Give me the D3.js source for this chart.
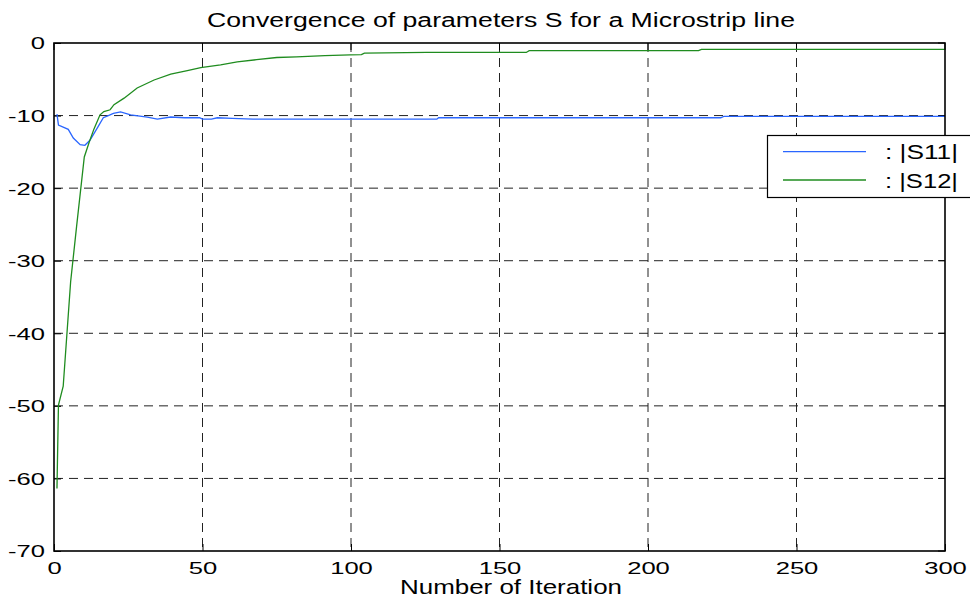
<!DOCTYPE html>
<html>
<head>
<meta charset="utf-8">
<script src="https://cdn.jsdelivr.net/npm/d3@7/dist/d3.min.js"></script>
<style>
  html, body { margin: 0; padding: 0; background: #fff; }
  svg { display: block; font-family: "Liberation Sans", Arial, Helvetica, sans-serif; }
</style>
</head>
<body>
<svg id="chart" width="970" height="598"></svg>
<script>
// ---- data ----
const titleText = "Convergence of parameters S for a Microstrip line";
const xLabelText = "Number of Iteration";
const xTicks = [0, 50, 100, 150, 200, 250, 300];
const yTicks = [0, -10, -20, -30, -40, -50, -60, -70];
const seriesNames = [": |S11|", ": |S12|"];

const s11Iter = [1, 1.5, 4.8, 6.5, 8.8, 10.4, 12.1, 14.9, 16.6, 18.3, 20, 22.4, 25.8, 31.4, 34.8, 39.3, 44, 49, 50, 53, 55, 60, 67, 80, 100, 128.9, 129.5, 150, 224.5, 225.5, 300];
const s11Val  = [-9.8, -11.3, -11.9, -13.1, -14.0, -14.1, -13.4, -11.5, -10.3, -10.0, -9.7, -9.5, -9.9, -10.2, -10.5, -10.2, -10.3, -10.3, -10.5, -10.5, -10.3, -10.4, -10.5, -10.5, -10.5, -10.5, -10.3, -10.3, -10.3, -10.1, -10.1];

const s12Iter = [1, 1.5, 3.1, 5.6, 7.6, 10.2, 11.9, 13.5, 15.5, 16.8, 18.9, 20.2, 23.6, 28, 33.7, 39.3, 44.9, 49.4, 56.1, 61.7, 68.2, 75, 81.7, 91.2, 99.7, 103.5, 104.5, 125.5, 150, 159, 160, 217, 218, 300];
const s12Val  = [-61.4, -49.9, -47.3, -32.9, -25.3, -15.7, -13.6, -11.8, -9.9, -9.45, -9.2, -8.5, -7.6, -6.2, -5.1, -4.3, -3.8, -3.4, -3.0, -2.6, -2.3, -2.0, -1.9, -1.75, -1.65, -1.6, -1.4, -1.3, -1.3, -1.3, -1.05, -1.05, -0.87, -0.87];

const seriesColors = ["#2a66ff", "#1f8c1f"];

// ---- layout ----
const svg = d3.select("#chart");
const pL = 54, pR = 945, pT = 43, pB = 551;

const x = d3.scaleLinear().domain([0, 300]).range([pL, pR]);
const y = d3.scaleLinear().domain([-70, 0]).range([pB, pT]);

// stretch text horizontally (reference glyphs are wide)
function stretch(sel, factor) {
  sel.each(function () {
    const w = this.getComputedTextLength();
    d3.select(this).attr("textLength", w * factor).attr("lengthAdjust", "spacingAndGlyphs");
  });
}

// grid
const grid = svg.append("g");
grid.selectAll("line.vx").data(xTicks.filter(t => t > 0 && t < 300)).enter()
  .append("line")
  .attr("x1", d => x(d)).attr("x2", d => x(d))
  .attr("y1", pT).attr("y2", pB)
  .attr("stroke", "#222").attr("stroke-width", 1)
  .attr("stroke-dasharray", "9,6");
grid.selectAll("line.hy").data(yTicks.filter(t => t < 0 && t > -70)).enter()
  .append("line")
  .attr("x1", pL).attr("x2", pR)
  .attr("y1", d => y(d)).attr("y2", d => y(d))
  .attr("stroke", "#222").attr("stroke-width", 1)
  .attr("stroke-dasharray", "9,6");

// axes
const fmt = d => String(d);
const xAxis = d3.axisBottom(x).tickValues(xTicks).tickFormat(fmt).tickSize(-7).tickPadding(0);
const yAxis = d3.axisLeft(y).tickValues(yTicks).tickFormat(fmt).tickSize(-7).tickPadding(9);

const gx = svg.append("g").attr("transform", `translate(0,${pB})`).call(xAxis);
const gy = svg.append("g").attr("transform", `translate(${pL},0)`).call(yAxis);
[gx, gy].forEach(g => {
  g.select(".domain").remove();
  g.selectAll(".tick line").attr("stroke", "#000");
  g.selectAll(".tick text").attr("font-size", 16.5).attr("fill", "#000")
    .attr("font-family", "Liberation Sans, Arial, sans-serif");
});
gx.selectAll(".tick text").attr("dy", null).attr("y", 22.5);
gy.selectAll(".tick text").attr("dy", "0.36em");
stretch(gx.selectAll(".tick text"), 1.55);
stretch(gy.selectAll(".tick text"), 1.55);

// top/right ticks
const rt = svg.append("g");
rt.selectAll("line.tt").data(xTicks).enter().append("line")
  .attr("x1", d => x(d)).attr("x2", d => x(d)).attr("y1", pT).attr("y2", pT + 7)
  .attr("stroke", "#000");
rt.selectAll("line.rr").data(yTicks).enter().append("line")
  .attr("x1", pR - 7).attr("x2", pR).attr("y1", d => y(d)).attr("y2", d => y(d))
  .attr("stroke", "#000");

// lines
const line = d3.line().x(d => x(d[0])).y(d => y(d[1]));
const s11 = s11Iter.map((t, i) => [t, s11Val[i]]);
const s12 = s12Iter.map((t, i) => [t, s12Val[i]]);
svg.append("clipPath").attr("id", "clp").append("rect")
  .attr("x", pL).attr("y", pT).attr("width", pR - pL).attr("height", pB - pT);
const lines = svg.append("g").attr("clip-path", "url(#clp)");
lines.append("path").datum(s11).attr("d", line).attr("fill", "none")
  .attr("stroke", seriesColors[0]).attr("stroke-width", 1.3);
lines.append("path").datum(s12).attr("d", line).attr("fill", "none")
  .attr("stroke", seriesColors[1]).attr("stroke-width", 1.3);

// box
svg.append("rect").attr("x", pL).attr("y", pT).attr("width", pR - pL).attr("height", pB - pT)
  .attr("fill", "none").attr("stroke", "#000").attr("stroke-width", 1.6);

// legend
const lg = svg.append("g");
lg.append("rect").attr("x", 767.5).attr("y", 135.5).attr("width", 230).attr("height", 62)
  .attr("fill", "#fff").attr("stroke", "#000").attr("stroke-width", 1.2);
seriesNames.forEach((name, i) => {
  const yy = 151.7 + i * 28.3;
  lg.append("line").attr("x1", 783).attr("x2", 866).attr("y1", yy).attr("y2", yy)
    .attr("stroke", seriesColors[i]).attr("stroke-width", 1.3);
  const t = lg.append("text").attr("x", 885).attr("y", yy + 7.6).attr("font-size", 19.5).text(name);
  t.attr("textLength", 73).attr("lengthAdjust", "spacingAndGlyphs");
});

// title and x label
svg.append("text").attr("x", 501).attr("y", 27).attr("text-anchor", "middle")
  .attr("font-size", 20).attr("textLength", 588).attr("lengthAdjust", "spacingAndGlyphs")
  .text(titleText);
svg.append("text").attr("x", 511).attr("y", 594).attr("text-anchor", "middle")
  .attr("font-size", 21).attr("textLength", 222).attr("lengthAdjust", "spacingAndGlyphs")
  .text(xLabelText);
</script>
</body>
</html>
